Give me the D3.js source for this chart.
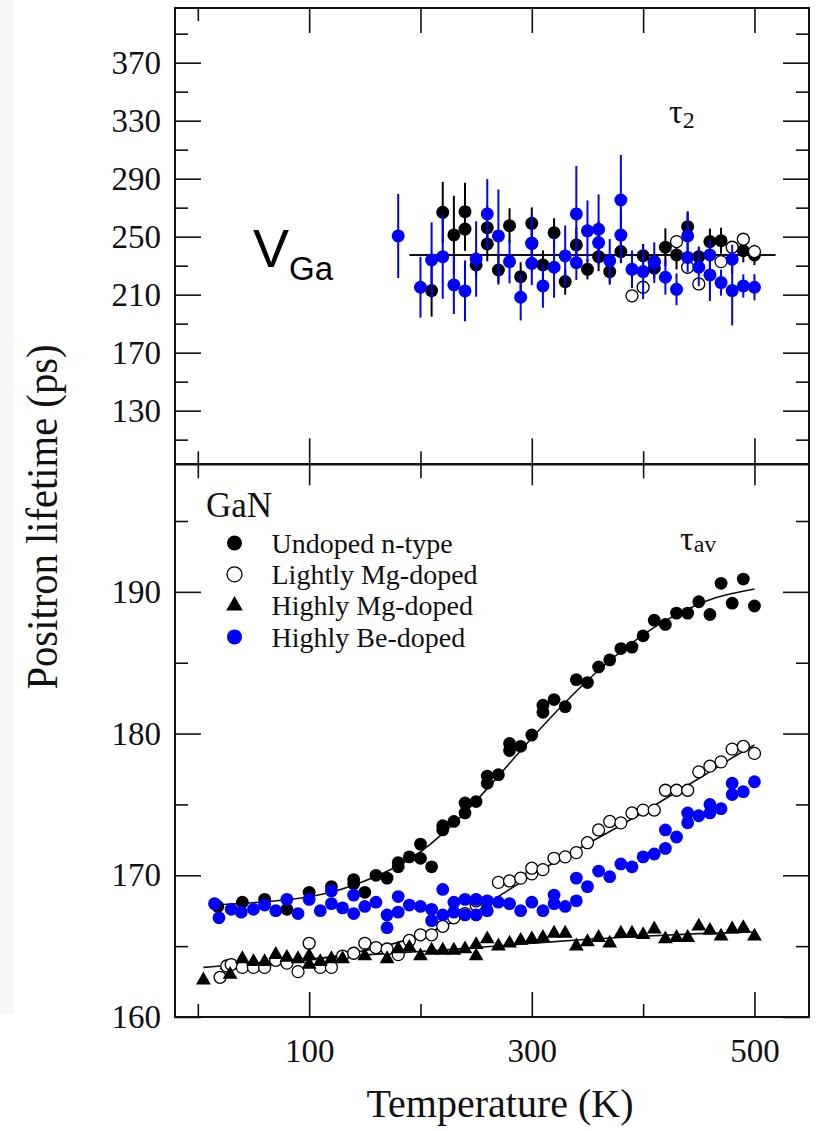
<!DOCTYPE html>
<html>
<head>
<meta charset="utf-8">
<script src="https://cdn.jsdelivr.net/npm/d3@7"></script>
<style>
  body { margin: 0; background: #fff; }
  svg { display: block; }
</style>
</head>
<body>
<svg id="chart"></svg>
<script>
// ---- data ----
// tau2 panel: [T (K), lifetime (ps), error (ps)]
const tau2Undoped = [
  [210, 212.8, 18], [220, 266.8, 21], [230, 251.2, 27], [240, 267.2, 20], [240, 255.2, 15],
  [250, 230.5, 8], [260, 256.2, 15], [260, 245.0, 12], [270, 227.0, 10], [280, 257.6, 12],
  [290, 222.4, 10], [300, 259.2, 11], [300, 245.4, 10], [310, 230.5, 10], [320, 252.7, 10],
  [330, 219.0, 9], [340, 244.3, 12], [350, 227.5, 7], [360, 236.2, 10], [370, 225.9, 9],
  [380, 239.7, 8], [400, 236.9, 8], [410, 228.2, 7], [420, 242.7, 13], [430, 237.4, 10],
  [440, 256.9, 10], [450, 236.2, 7], [460, 246.6, 9], [470, 247.2, 9], [490, 240.3, 8],
  [500, 237.4, 7]
];
const tau2Light = [
  [390, 209.2], [400, 215.1], [410, 232.8], [430, 246.6], [440, 228.9],
  [450, 217.4], [470, 232.8], [480, 242.7], [490, 248.2], [500, 239.7]
];
const tau2Be = [
  [180, 250.5, 29], [200, 215.1, 21], [210, 233.9, 26], [220, 236.2, 29], [230, 216.7, 20],
  [240, 212.6, 21], [250, 234.6, 26], [260, 265.7, 24], [270, 250.5, 32], [280, 232.8, 15],
  [290, 208.2, 16], [300, 245.4, 20], [300, 231.6, 15], [310, 216.0, 15], [320, 228.9, 21],
  [330, 236.7, 21], [340, 265.7, 33], [340, 232.1, 12], [350, 254.0, 21], [360, 255.1, 24],
  [360, 245.9, 15], [370, 233.4, 15], [380, 275.3, 31], [380, 251.1, 18], [390, 227.5, 13],
  [400, 225.9, 19], [410, 232.1, 14], [420, 222.0, 12], [430, 213.7, 11], [440, 250.5, 17],
  [440, 235.7, 10], [450, 228.9, 13], [460, 223.6, 18], [460, 237.4, 10], [470, 218.3, 9],
  [480, 212.8, 24], [480, 234.4, 10], [490, 216.0, 8], [500, 215.1, 9]
];
const tau2Mean = 237.4;
const tau2MeanRange = [190, 519];

// tau_av panel: [T (K), lifetime (ps)]
const avUndoped = [
  [18, 167.8], [40, 168.1], [60, 168.3], [80, 167.6], [100, 168.8], [120, 169.2],
  [140, 169.7], [140, 169.4], [150, 168.8], [160, 170.0], [170, 169.8], [180, 170.9],
  [180, 170.6], [190, 171.3], [200, 171.2], [200, 172.2], [210, 170.6], [220, 173.2],
  [220, 173.5], [230, 173.8], [240, 174.4], [240, 175.1], [250, 175.2], [260, 176.5],
  [260, 177.0], [270, 177.1], [280, 178.8], [280, 179.3], [290, 179.1], [300, 179.9],
  [310, 181.5], [310, 182.0], [320, 182.4], [330, 181.9], [340, 183.8], [350, 183.6],
  [360, 184.7], [370, 185.2], [380, 186.0], [390, 186.1], [400, 186.9], [410, 188.0],
  [420, 187.7], [430, 188.5], [440, 188.5], [450, 189.3], [460, 188.4], [470, 190.6],
  [480, 189.2], [490, 190.9], [500, 189.0]
];
const avLight = [
  [20, 162.8], [26, 163.6], [30, 163.7], [40, 163.5], [50, 163.5], [60, 163.5],
  [70, 164.0], [80, 163.8], [90, 163.2], [100, 165.2], [110, 163.5], [120, 163.5],
  [130, 164.3], [140, 164.5], [150, 165.2], [160, 164.9], [170, 164.8], [180, 164.4],
  [190, 165.4], [200, 165.8], [210, 165.8], [220, 166.4], [230, 167.0], [240, 167.3],
  [250, 167.9], [250, 168.2], [270, 169.5], [280, 169.6], [290, 169.8], [300, 170.1],
  [300, 170.5], [310, 170.4], [320, 171.2], [330, 171.3], [340, 171.6], [350, 172.3],
  [360, 173.2], [370, 173.8], [380, 173.7], [390, 174.4], [400, 174.6], [410, 174.6],
  [420, 176.0], [430, 176.0], [440, 176.0], [450, 177.3], [460, 177.7], [470, 178.0],
  [480, 178.9], [490, 179.1], [500, 178.6]
];
const avHighMg = [
  [5, 162.6], [29, 163.0], [40, 164.1], [50, 163.9], [60, 163.9], [70, 164.4],
  [80, 164.2], [90, 164.1], [100, 164.3], [100, 163.7], [110, 163.9], [120, 164.1],
  [130, 164.1], [150, 164.3], [170, 164.1], [180, 164.8], [190, 164.9], [200, 164.3],
  [210, 164.7], [220, 164.7], [230, 164.7], [240, 164.8], [250, 165.1], [250, 164.3],
  [260, 165.5], [270, 165.0], [280, 165.2], [290, 165.4], [300, 165.5], [310, 165.6],
  [320, 165.9], [330, 165.9], [340, 165.0], [350, 165.3], [360, 165.6], [370, 165.2],
  [380, 165.9], [390, 165.9], [400, 165.8], [410, 166.2], [420, 165.5], [430, 165.6],
  [440, 165.6], [450, 166.4], [460, 166.1], [470, 165.7], [480, 166.2], [490, 166.3],
  [500, 165.7]
];
const avBe = [
  [15, 168.0], [19, 167.0], [30, 167.6], [39, 167.4], [50, 167.6], [60, 167.9],
  [70, 167.5], [80, 168.3], [90, 167.3], [100, 168.3], [110, 167.5], [120, 168.9],
  [120, 168.0], [130, 167.7], [140, 168.6], [140, 167.3], [150, 167.8], [160, 168.1],
  [170, 166.3], [170, 167.2], [180, 168.5], [180, 167.4], [190, 167.9], [200, 167.8],
  [210, 166.8], [210, 167.6], [220, 169.0], [220, 167.2], [230, 168.1], [230, 167.4],
  [240, 168.3], [240, 167.2], [250, 168.3], [250, 167.2], [260, 167.5], [260, 168.2],
  [270, 168.1], [280, 168.0], [290, 167.5], [300, 168.1], [310, 167.5], [320, 168.6],
  [320, 168.0], [330, 167.8], [340, 168.2], [340, 169.8], [350, 169.2], [360, 170.3],
  [370, 169.9], [380, 170.8], [390, 170.6], [400, 171.3], [410, 171.5], [420, 171.9],
  [420, 173.2], [430, 172.7], [440, 174.4], [440, 173.7], [450, 174.2], [460, 175.0],
  [460, 174.4], [470, 174.7], [480, 176.5], [480, 175.7], [490, 175.9], [500, 176.6]
];
// fitted curves drawn through the data
const fitUndoped = [
  [15, 167.9], [60, 168.1], [100, 168.4], [140, 169.2], [180, 170.6], [200, 171.6],
  [220, 172.9], [240, 174.4], [260, 176.1], [280, 177.9], [300, 179.7], [320, 181.4],
  [340, 183.0], [360, 184.5], [380, 185.8], [400, 187.0], [420, 188.0], [440, 188.8],
  [460, 189.5], [480, 189.9], [500, 190.2]
];
const fitLight = [
  [20, 163.4], [60, 163.7], [100, 164.0], [140, 164.5], [180, 165.2], [220, 166.3],
  [250, 167.5], [280, 169.0], [300, 170.0], [340, 171.8], [380, 173.5], [420, 175.4],
  [460, 177.3], [480, 178.3], [500, 179.2]
];
const fitHighMg = [
  [5, 163.5], [50, 163.8], [100, 164.1], [150, 164.4], [200, 164.6], [250, 164.9],
  [300, 165.2], [350, 165.5], [400, 165.7], [450, 165.9], [500, 166.0]
];

const xMajor = [100, 300, 500];
const xMinor = [0, 200, 400];
const xTopEdge = [100, 200, 300, 400, 500];
const topMajor = [130, 170, 210, 250, 290, 330, 370];
const topMinor = [110, 150, 190, 230, 270, 310, 350, 390];
const botMajor = [160, 170, 180, 190];
const botMinor = [165, 175, 185, 195];
const legendLabels = ["Undoped n-type", "Lightly Mg-doped", "Highly Mg-doped", "Highly Be-doped"];

// ---- layout ----
const W = 821;
const H = 1131;
const plotL = 175, plotR = 809;
const plotT = 8, plotMid = 464.3, plotB = 1017;
const BLUE = "#0000ff";
const INK = "#111";
const SERIF = '"Liberation Serif", "Times New Roman", serif';
const SANS = '"Liberation Sans", Arial, sans-serif';

const svg = d3.select("#chart").attr("width", W).attr("height", H)
  .style("font-family", SERIF);

svg.append("rect").attr("width", W).attr("height", H).attr("fill", "#fff");
svg.append("rect").attr("x", 0).attr("y", 0).attr("width", 14).attr("height", 1014).attr("fill", "#f7f7f7");

const x = d3.scaleLinear().domain([-20.5, 549]).range([plotL, plotR]);
const yTop = d3.scaleLinear().domain([93, 407.7]).range([plotMid, plotT]);
const yBot = d3.scaleLinear().domain([160, 199]).range([plotB, plotMid]);

function styleAxis(g) {
  g.select(".domain").remove();
  g.selectAll("line").attr("stroke", INK).attr("stroke-width", 1.6);
  g.selectAll("text").attr("font-size", 33).attr("fill", INK).attr("font-family", SERIF);
}

function yAxes(scale, majors, minors) {
  svg.append("g").attr("transform", `translate(${plotL},0)`)
    .call(d3.axisLeft(scale).tickValues(majors).tickSizeInner(-26).tickSizeOuter(0).tickPadding(14))
    .call(styleAxis);
  svg.append("g").attr("transform", `translate(${plotL},0)`)
    .call(d3.axisLeft(scale).tickValues(minors).tickSizeInner(-13).tickSizeOuter(0).tickFormat(""))
    .call(styleAxis);
  svg.append("g").attr("transform", `translate(${plotR},0)`)
    .call(d3.axisRight(scale).tickValues(majors).tickSizeInner(-26).tickSizeOuter(0).tickFormat(""))
    .call(styleAxis);
  svg.append("g").attr("transform", `translate(${plotR},0)`)
    .call(d3.axisRight(scale).tickValues(minors).tickSizeInner(-13).tickSizeOuter(0).tickFormat(""))
    .call(styleAxis);
}

function xAxis(axisFn, y, major, minor, majorLen, minorLen, labels) {
  svg.append("g").attr("transform", `translate(0,${y})`)
    .call(axisFn(x).tickValues(major).tickSizeInner(-majorLen).tickSizeOuter(0)
      .tickPadding(22).tickFormat(labels ? d3.format("d") : ""))
    .call(styleAxis);
  svg.append("g").attr("transform", `translate(0,${y})`)
    .call(axisFn(x).tickValues(minor).tickSizeInner(-minorLen).tickSizeOuter(0).tickFormat(""))
    .call(styleAxis);
}

yAxes(yTop, topMajor, topMinor);
yAxes(yBot, botMajor, botMinor);
xAxis(d3.axisTop, plotT, xTopEdge, [0], 25, 13, false);
xAxis(d3.axisBottom, plotMid, xMajor, xMinor, 26, 13, false);
xAxis(d3.axisTop, plotMid, xMajor, xMinor, 21, 14, false);
xAxis(d3.axisBottom, plotB, xMajor, xMinor, 25, 13, true);

// frame + divider
svg.append("rect").attr("x", plotL).attr("y", plotT).attr("width", plotR - plotL).attr("height", plotB - plotT)
  .attr("fill", "none").attr("stroke", INK).attr("stroke-width", 2);
svg.append("line").attr("x1", plotL).attr("x2", plotR).attr("y1", plotMid).attr("y2", plotMid)
  .attr("stroke", INK).attr("stroke-width", 2.6);

// ---- top panel (tau2) ----
const topG = svg.append("g");

topG.append("line")
  .attr("x1", x(tau2MeanRange[0])).attr("x2", x(tau2MeanRange[1]))
  .attr("y1", yTop(tau2Mean)).attr("y2", yTop(tau2Mean))
  .attr("stroke", INK).attr("stroke-width", 2);

function errorSeries(data, color) {
  const g = topG.append("g");
  g.selectAll("line").data(data).join("line")
    .attr("x1", (d) => x(d[0])).attr("x2", (d) => x(d[0]))
    .attr("y1", (d) => yTop(d[1] - d[2])).attr("y2", (d) => yTop(d[1] + d[2]))
    .attr("stroke", color).attr("stroke-width", 2);
  g.selectAll("circle").data(data).join("circle")
    .attr("cx", (d) => x(d[0])).attr("cy", (d) => yTop(d[1])).attr("r", 6.5)
    .attr("fill", color);
}

errorSeries(tau2Undoped, "#000");
topG.append("g").selectAll("circle").data(tau2Light).join("circle")
  .attr("cx", (d) => x(d[0])).attr("cy", (d) => yTop(d[1])).attr("r", 6)
  .attr("fill", "#fff").attr("stroke", "#000").attr("stroke-width", 1.3);
errorSeries(tau2Be, BLUE);

const vga = svg.append("text").attr("x", 253).attr("y", 267)
  .style("font-family", SANS).attr("font-size", 54).attr("fill", "#000");
vga.append("tspan").text("V");
vga.append("tspan").attr("font-size", 33).attr("dy", 13).text("Ga");

const t2 = svg.append("text").attr("x", 669).attr("y", 123).attr("font-size", 34).attr("fill", INK);
t2.append("tspan").text("τ");
t2.append("tspan").attr("font-size", 24).attr("dy", 5).text("2");

// ---- bottom panel (tau_av) ----
const line = d3.line().x((d) => x(d[0])).y((d) => yBot(d[1])).curve(d3.curveBasis);
const botG = svg.append("g");

[fitUndoped, fitLight, fitHighMg].forEach((fit) => {
  botG.append("path").datum(fit).attr("d", line)
    .attr("fill", "none").attr("stroke", INK).attr("stroke-width", 1.6);
});

const tri = d3.symbol().type(d3.symbolTriangle).size(95);

botG.append("g").selectAll("circle").data(avUndoped).join("circle")
  .attr("cx", (d) => x(d[0])).attr("cy", (d) => yBot(d[1])).attr("r", 6.4).attr("fill", "#000");
botG.append("g").selectAll("circle").data(avLight).join("circle")
  .attr("cx", (d) => x(d[0])).attr("cy", (d) => yBot(d[1])).attr("r", 6)
  .attr("fill", "#fff").attr("stroke", "#000").attr("stroke-width", 1.3);
botG.append("g").selectAll("path").data(avHighMg).join("path")
  .attr("d", tri).attr("transform", (d) => `translate(${x(d[0])},${yBot(d[1])})`).attr("fill", "#000");
botG.append("g").selectAll("circle").data(avBe).join("circle")
  .attr("cx", (d) => x(d[0])).attr("cy", (d) => yBot(d[1])).attr("r", 6.4).attr("fill", BLUE);

const tav = svg.append("text").attr("x", 680).attr("y", 550).attr("font-size", 34).attr("fill", INK);
tav.append("tspan").text("τ");
tav.append("tspan").attr("font-size", 24).attr("dy", 2).text("av");

// legend
svg.append("text").attr("x", 206).attr("y", 517).attr("font-size", 35).attr("fill", INK).text("GaN");
const legend = svg.append("g").selectAll("g").data(legendLabels).join("g")
  .attr("transform", (d, i) => `translate(234.5,${543 + i * 31.3})`);
legend.each(function (d, i) {
  const g = d3.select(this);
  if (i === 2) {
    g.append("path").attr("d", d3.symbol().type(d3.symbolTriangle).size(120)).attr("fill", "#000");
  } else {
    g.append("circle").attr("r", 7.5)
      .attr("fill", i === 0 ? "#000" : i === 1 ? "#fff" : BLUE)
      .attr("stroke", i === 1 ? "#000" : "none").attr("stroke-width", 1.3);
  }
});
legend.append("text").attr("x", 37).attr("dy", "0.35em").attr("font-size", 28).attr("fill", INK)
  .text((d) => d);

// axis titles
svg.append("text").attr("x", 500).attr("y", 1117).attr("text-anchor", "middle")
  .attr("font-size", 40).attr("fill", INK).text("Temperature (K)");
svg.append("text").attr("transform", "translate(57,517) rotate(-90)").attr("text-anchor", "middle")
  .attr("font-size", 44).attr("fill", INK).attr("textLength", 345).attr("lengthAdjust", "spacingAndGlyphs")
  .text("Positron lifetime (ps)");
</script>
</body>
</html>
